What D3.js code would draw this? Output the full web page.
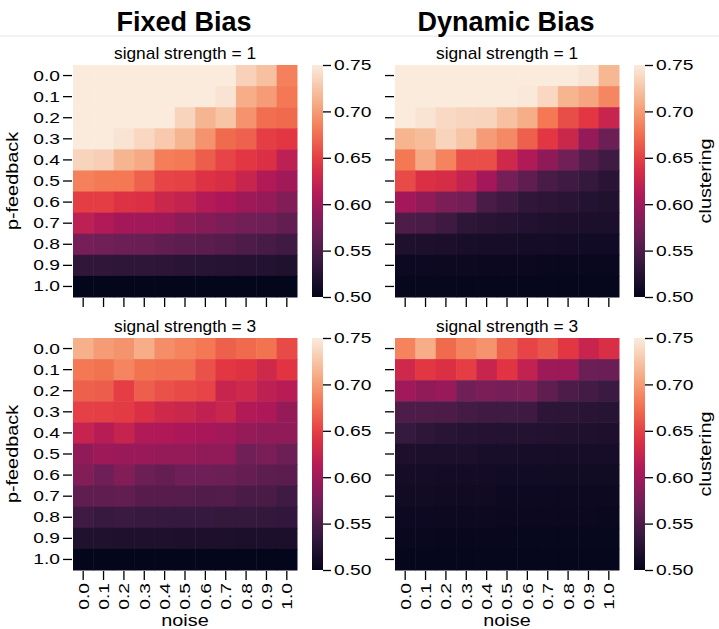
<!DOCTYPE html>
<html><head><meta charset="utf-8">
<script src="https://cdn.jsdelivr.net/npm/d3@7"></script>
<style>body{margin:0;background:#fff}svg{display:block}text{font-family:"Liberation Sans",Arial,Helvetica,sans-serif}</style>
</head><body><svg id="c" width="719" height="629"></svg>
<script>
const pFeedback = ["0.0","0.1","0.2","0.3","0.4","0.5","0.6","0.7","0.8","0.9","1.0"];
const noise = ["0.0","0.1","0.2","0.3","0.4","0.5","0.6","0.7","0.8","0.9","1.0"];
const cbarTicks = [0.50,0.55,0.60,0.65,0.70,0.75];
const columnTitles = ["Fixed Bias","Dynamic Bias"];
const signalStrengths = [1,3];

const fixedS1 = [
[0.76,0.76,0.76,0.76,0.76,0.76,0.76,0.76,0.733,0.722,0.685],
[0.76,0.76,0.76,0.76,0.76,0.76,0.76,0.745,0.710,0.700,0.680],
[0.76,0.76,0.76,0.76,0.76,0.735,0.715,0.725,0.695,0.675,0.672],
[0.76,0.76,0.745,0.737,0.728,0.715,0.695,0.672,0.668,0.648,0.645],
[0.735,0.732,0.715,0.708,0.683,0.681,0.665,0.652,0.645,0.638,0.618],
[0.685,0.681,0.680,0.668,0.652,0.651,0.640,0.636,0.625,0.610,0.600],
[0.648,0.648,0.640,0.638,0.627,0.622,0.612,0.607,0.598,0.594,0.582],
[0.618,0.610,0.602,0.600,0.598,0.588,0.584,0.578,0.573,0.570,0.563],
[0.575,0.572,0.569,0.567,0.563,0.560,0.558,0.555,0.551,0.547,0.543],
[0.532,0.532,0.531,0.530,0.529,0.527,0.526,0.525,0.524,0.523,0.521],
[0.501,0.501,0.501,0.501,0.501,0.501,0.501,0.501,0.501,0.501,0.501]];
const dynamicS1 = [
[0.76,0.76,0.76,0.76,0.76,0.76,0.76,0.76,0.76,0.745,0.716],
[0.76,0.76,0.76,0.76,0.76,0.76,0.748,0.737,0.714,0.706,0.688],
[0.75,0.745,0.738,0.736,0.735,0.722,0.711,0.680,0.657,0.645,0.625],
[0.714,0.720,0.735,0.725,0.700,0.690,0.667,0.645,0.627,0.594,0.569],
[0.680,0.708,0.686,0.658,0.658,0.630,0.610,0.589,0.572,0.554,0.542],
[0.655,0.638,0.635,0.622,0.602,0.575,0.561,0.548,0.542,0.535,0.527],
[0.602,0.591,0.578,0.574,0.548,0.541,0.532,0.529,0.527,0.523,0.521],
[0.551,0.548,0.541,0.531,0.527,0.525,0.522,0.520,0.519,0.518,0.517],
[0.520,0.519,0.517,0.516,0.515,0.514,0.513,0.513,0.512,0.511,0.511],
[0.508,0.508,0.507,0.507,0.506,0.506,0.506,0.505,0.505,0.505,0.505],
[0.503,0.503,0.503,0.502,0.502,0.502,0.502,0.502,0.502,0.502,0.502]];
const fixedS3 = [
[0.712,0.700,0.696,0.710,0.692,0.686,0.680,0.667,0.672,0.677,0.655],
[0.680,0.677,0.687,0.677,0.675,0.675,0.659,0.645,0.641,0.630,0.643],
[0.667,0.665,0.648,0.666,0.659,0.655,0.652,0.625,0.630,0.618,0.614],
[0.650,0.649,0.647,0.638,0.630,0.627,0.620,0.626,0.610,0.608,0.593],
[0.624,0.614,0.624,0.610,0.609,0.606,0.605,0.600,0.594,0.591,0.590],
[0.591,0.598,0.596,0.596,0.593,0.593,0.591,0.591,0.572,0.578,0.569],
[0.582,0.571,0.582,0.569,0.565,0.571,0.571,0.569,0.565,0.560,0.559],
[0.561,0.561,0.563,0.556,0.556,0.555,0.553,0.554,0.549,0.549,0.542],
[0.542,0.537,0.539,0.537,0.537,0.536,0.536,0.535,0.535,0.534,0.533],
[0.521,0.521,0.520,0.520,0.520,0.519,0.519,0.519,0.518,0.518,0.518],
[0.501,0.501,0.501,0.501,0.501,0.501,0.501,0.501,0.501,0.501,0.501]];
const dynamicS3 = [
[0.686,0.710,0.672,0.686,0.695,0.667,0.652,0.661,0.645,0.625,0.637],
[0.630,0.645,0.639,0.648,0.625,0.643,0.621,0.598,0.598,0.569,0.568],
[0.600,0.591,0.596,0.572,0.578,0.575,0.577,0.561,0.551,0.545,0.539],
[0.551,0.551,0.550,0.545,0.542,0.542,0.541,0.529,0.529,0.527,0.526],
[0.536,0.530,0.527,0.525,0.524,0.523,0.523,0.522,0.521,0.520,0.519],
[0.519,0.518,0.517,0.517,0.516,0.516,0.515,0.515,0.515,0.514,0.514],
[0.513,0.513,0.512,0.512,0.512,0.511,0.511,0.511,0.510,0.510,0.510],
[0.510,0.510,0.509,0.509,0.509,0.508,0.508,0.508,0.508,0.507,0.507],
[0.508,0.508,0.507,0.507,0.507,0.506,0.506,0.506,0.506,0.506,0.505],
[0.505,0.505,0.504,0.504,0.504,0.504,0.503,0.503,0.503,0.503,0.503],
[0.502,0.502,0.502,0.502,0.502,0.502,0.502,0.502,0.502,0.502,0.502]];

// rocket colormap approximation
const rocketStops = ["#03051a","#35193e","#701f57","#ad1759","#e13342","#f37651","#f6b48f","#faebdd"];
const vmin = 0.5, vmax = 0.75;
const color = d3.scaleLinear()
  .domain(rocketStops.map((_, i) => vmin + (vmax - vmin) * i / (rocketStops.length - 1)))
  .range(rocketStops).interpolate(d3.interpolateRgb).clamp(true);

const svg = d3.select("#c");
const panels = [
  {data: fixedS1, col: 0, row: 0},
  {data: dynamicS1, col: 1, row: 0},
  {data: fixedS3, col: 0, row: 1},
  {data: dynamicS3, col: 1, row: 1}
];
const colX = [73, 395], rowY = [65, 338];
const W = 224, H = 232;
const FONT = 15.5, SX = 1.24;

function stext(parent, x, y, str, size, sx, anchor, rot) {
  const g = parent.append("g").attr("transform", `translate(${x},${y})` + (rot ? ` rotate(${rot})` : ""));
  return g.append("text").attr("transform", `scale(${sx},1)`).attr("text-anchor", anchor)
    .attr("font-size", size).attr("fill", "#000").text(str);
}
function stretchTicks(sel, sx) {
  sel.each(function () {
    const t = d3.select(this);
    const x = +t.attr("x") || 0;
    t.attr("x", x / sx);
    const prev = t.attr("transform") || "";
    t.attr("transform", (prev ? prev + " " : "") + `scale(${sx},1)`);
  });
}

svg.append("line").attr("x1", 0).attr("x2", 719).attr("y1", 36).attr("y2", 36)
  .attr("stroke", "#e6e6e6").attr("stroke-width", 1);
columnTitles.forEach((t, i) => {
  svg.append("text").attr("x", colX[i] + W / 2 - 1).attr("y", 31).attr("text-anchor", "middle")
    .attr("font-size", 27).attr("font-weight", "bold").text(t);
});

panels.forEach(p => {
  const g = svg.append("g").attr("transform", `translate(${colX[p.col]},${rowY[p.row]})`);
  const x = d3.scaleBand().domain(noise).range([0, W]);
  const y = d3.scaleBand().domain(pFeedback).range([0, H]);
  p.data.forEach((rowVals, ri) => {
    g.selectAll(null).data(rowVals).enter().append("rect")
      .attr("x", (d, ci) => x(noise[ci]))
      .attr("y", y(pFeedback[ri]))
      .attr("width", x.bandwidth() + 0.5)
      .attr("height", y.bandwidth() + 0.5)
      .attr("fill", d => color(d));
  });
  const yAxis = d3.axisLeft(y).tickSize(9).tickPadding(3);
  if (p.col === 1) yAxis.tickFormat("");
  const ya = g.append("g").attr("transform", "translate(-1,0)").call(yAxis);
  const xAxis = d3.axisBottom(x).tickSize(9).tickPadding(3);
  if (p.row === 0) xAxis.tickFormat("");
  const xa = g.append("g").attr("transform", `translate(0,${H + 1})`).call(xAxis);
  [ya, xa].forEach(a => {
    a.select(".domain").remove();
    a.selectAll(".tick line").attr("stroke", "#000").attr("stroke-width", 1.3);
    a.selectAll("text").attr("font-size", FONT).attr("fill", "#000")
      .attr("font-family", '"Liberation Sans",Arial,sans-serif');
  });
  if (p.col === 0) stretchTicks(ya.selectAll(".tick text"), SX);
  if (p.row === 1) {
    xa.selectAll(".tick text").attr("transform", "rotate(-90)")
      .attr("text-anchor", "end").attr("x", -12).attr("y", 0).attr("dy", "0.35em");
    stretchTicks(xa.selectAll(".tick text"), SX);
    stext(g, W / 2, H + 56, "noise", 16, SX, "middle");
  }
  if (p.col === 0) {
    stext(g, -55, H / 2, "p-feedback", 16, SX, "middle", -90);
  }
  stext(g, W / 2, -6, "signal strength = " + signalStrengths[p.row], 17, 1.02, "middle");

  // colorbar
  const cbx = W + 15;
  const cbW = 11;
  const gid = `grad${p.col}${p.row}`;
  const grad = svg.append("defs").append("linearGradient").attr("id", gid)
    .attr("x1", 0).attr("x2", 0).attr("y1", 1).attr("y2", 0);
  d3.range(0, 1.0001, 0.05).forEach(f => {
    grad.append("stop").attr("offset", f).attr("stop-color", color(vmin + f * (vmax - vmin)));
  });
  const cs = d3.scaleLinear().domain([vmin, vmax]).range([H, 0]);
  const cb = g.append("g").attr("transform", `translate(${cbx},0)`);
  cb.append("rect").attr("width", cbW).attr("height", H).attr("fill", `url(#${gid})`);
  const ca = cb.append("g").attr("transform", `translate(${cbW},0)`)
    .call(d3.axisRight(cs).tickValues(cbarTicks).tickFormat(d3.format(".2f")).tickSize(8).tickPadding(3));
  ca.select(".domain").remove();
  ca.selectAll(".tick line").attr("stroke", "#000").attr("stroke-width", 1.3);
  ca.selectAll("text").attr("font-size", FONT).attr("fill", "#000")
    .attr("font-family", '"Liberation Sans",Arial,sans-serif');
  stretchTicks(ca.selectAll(".tick text"), SX);
  if (p.col === 1) {
    stext(cb, cbW + 66, H / 2, "clustering", 16, SX, "middle", -90);
  }
});
</script></body></html>
